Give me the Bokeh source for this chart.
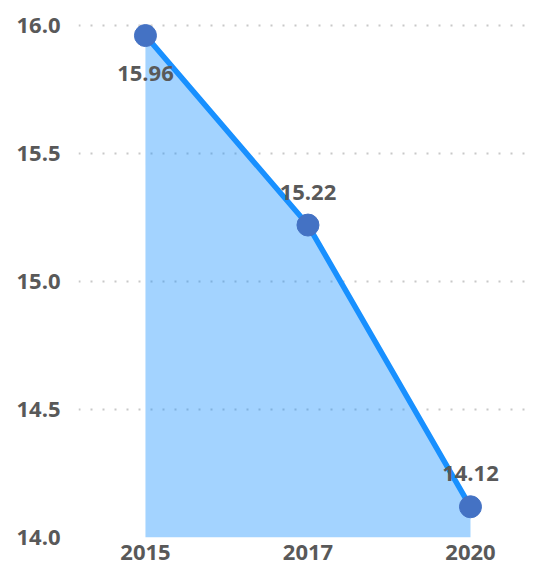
from bokeh.plotting import figure
from bokeh.models import Range1d, FixedTicker
from bokeh.embed import file_html
from bokeh.resources import INLINE
from bokeh.core.properties import value

years = ["2015", "2017", "2020"]
values = [15.96, 15.22, 14.12]
y_ticks = [14.0, 14.5, 15.0, 15.5, 16.0]
y_tick_labels = ["14.0", "14.5", "15.0", "15.5", "16.0"]

xs = list(range(len(years)))
base = y_ticks[0]

p = figure(width=536, height=566, output_backend="svg", toolbar_location=None,
           x_range=Range1d(-0.412, 2.357), y_range=Range1d(14.0, 16.05),
           min_border_left=78, min_border_right=8, min_border_top=12, min_border_bottom=29)
p.outline_line_color = None
p.background_fill_color = "white"
p.border_fill_color = "white"

font = "Open Sans"
lab_color = "#595959"
fsize = "22px"

# axes
for ax in (p.xaxis[0], p.yaxis[0]):
    ax.axis_line_color = None
    ax.major_tick_line_color = None
    ax.minor_tick_line_color = None
    ax.major_tick_out = 0
    ax.major_tick_in = 0
    ax.major_label_text_font = font
    ax.major_label_text_font_style = "bold"
    ax.major_label_text_font_size = fsize
    ax.major_label_text_color = lab_color

p.xaxis.ticker = FixedTicker(ticks=xs)
p.xaxis.major_label_overrides = {i: y for i, y in enumerate(years)}
p.xaxis.major_label_standoff = 7
p.yaxis.ticker = FixedTicker(ticks=y_ticks)
p.yaxis.major_label_overrides = {t: l for t, l in zip(y_ticks, y_tick_labels)}
p.yaxis.major_label_standoff = 18

p.xgrid.grid_line_color = None
p.ygrid.grid_line_color = "#c8c8c8"
p.ygrid.grid_line_dash = "2 10"
p.ygrid.grid_line_width = 2

# area
p.varea(x=xs, y1=[base] * len(xs), y2=values, fill_color="#1890ff", fill_alpha=0.4)
# line
p.line(xs, values, line_color="#1890ff", line_width=5.5)
# markers
p.scatter(xs, values, size=22, fill_color="#4472c4", line_color="#4472c4")

labels = [f"{v:.2f}" for v in values]
p.text(xs[:1], values[:1], text=labels[:1], text_font=value(font), text_font_style="bold",
       text_font_size=fsize, text_color=lab_color, text_align="center",
       text_baseline="middle", y_offset=38)
p.text(xs[1:], values[1:], text=labels[1:], text_font=value(font), text_font_style="bold",
       text_font_size=fsize, text_color=lab_color, text_align="center",
       text_baseline="middle", y_offset=-33)

open("out.html", "w").write(file_html(p, INLINE))
